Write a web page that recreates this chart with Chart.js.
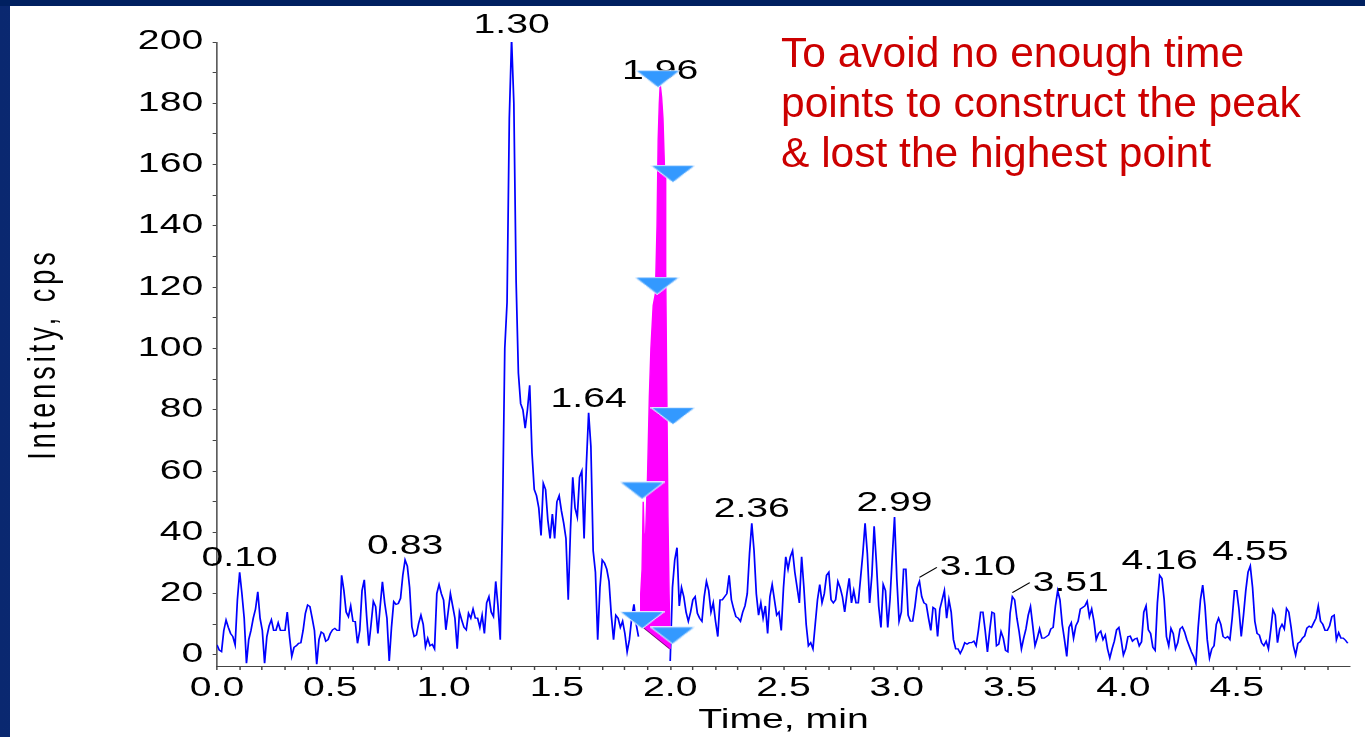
<!DOCTYPE html>
<html>
<head>
<meta charset="utf-8">
<title>XIC chromatogram</title>
<script src="https://cdn.jsdelivr.net/npm/chart.js@4.4.1/dist/chart.umd.min.js"></script>
<style>
  html, body { margin: 0; padding: 0; }
  body { width: 1365px; height: 737px; overflow: hidden; position: relative;
         background: linear-gradient(to right, #0a2870, #143c98); }
  #topband { position: absolute; left: 0; top: 0; width: 1365px; height: 6px; background: #002060; }
  #sheet { position: absolute; left: 10px; top: 6px; right: 0; bottom: 0; background: #fff; }
  #chart { position: absolute; left: 0; top: 0; }
  #note { position: absolute; left: 781px; top: 28px; color: #cc0000; white-space: pre;
          font: 42.5px/50px 'Liberation Sans', Arial, sans-serif; }
</style>
</head>
<body>
<div id="topband"></div>
<div id="sheet"></div>
<canvas id="chart" width="941" height="737"></canvas>
<div id="note">To avoid no enough time
points to construct the peak
&amp; lost the highest point</div>
<script>
// trace sampled every 0.01 min from 0.00 to 4.99; the integrated peak (1.87-1.99) is kept apart
var sampleStep = 0.01;
var intensity = [
  3.3, 1.6, 1.1, 8, 11.4, 9, 7, 6, 3.3, 18,
  27, 20, 12, -2.7, 5, 8, 12, 15, 20.6, 12,
  8, -2.7, 6, 9.5, 11.5, 8, 8, 10.5, 8, 8,
  8, 14, 6, -0.5, 2.5, 3, 3.8, 4, 8, 13.6,
  16.3, 15.8, 12, 8, -3, 5, 7.5, 7, 4.5, 5,
  7, 8.2, 8.7, 8, 8, 26, 21, 14, 12.5, 16,
  11, 10.9, 3.8, 8, 21, 24.5, 13, 3, 10, 17.5,
  15.8, 7, 15.8, 23.9, 17, 12, -2, 9, 17.4, 16.5,
  16.8, 18.5, 26, 31, 29, 22, 9.2, 6, 6.5, 10.3,
  13, 10, 2.7, 5.4, 3, 3.5, 2, 20, 23, 20,
  17.9, 8.2, 14, 20, 16, 12, 2, 14, 11.4, 9,
  8.2, 13.6, 12, 15, 12, 12, 9, 13, 7, 17,
  19, 14, 12.5, 24, 16, 5, 45, 100, 115, 175,
  201, 180, 122, 92, 82, 80, 74, 80, 88, 66,
  54, 52, 48, 39, 56, 54, 44, 38, 46, 38,
  50, 52, 47, 43, 38, 18, 41, 58, 48, 45,
  58, 60, 38, 62, 79, 68, 34, 27, 5, 22,
  31, 30, 28, 24, 13, 5, 13, 12, 9, 11,
  7, 1, 5, 12, 16.5, 10, 6, null, null, null,
  null, null, null, null, null, null, null, null, null, null,
  -2, 22, 31, 35, 16, 22, 19, 14, 11, 14,
  18, 19, 13.6, 12, 11, 19, 24, 21, 14, 17,
  11, 6, 18, 18, 19, 20, 26, 18, 15, 12.5,
  12, 11, 14, 16, 20, 33, 43, 34, 20, 13,
  17, 12, 16, 7, 19, 23, 18, 13, 14, 8,
  22, 32, 28, 32, 34, 27, 22, 17, 32, 22,
  10, 3, 4, 2, 10, 18, 23, 17, 20, 26,
  27, 18, 17, 18, 24, 22, 19, 14, 20, 25,
  17, 21, 17, 17, 25, 33, 43, 33, 17, 26,
  42, 30, 16, 9, 23, 21, 9, 18, 32, 45,
  25, 11, 14, 28, 28, 13, 11, 11, 15.8, 22,
  24, 19, 17, 16.5, 12, 8, 15.5, 15, 6, 15,
  18, 21, 12, 18, 14, 5, 2, 2, 0.5, 2,
  4, 3.5, 4, 4, 4.5, 3, 8, 14, 14, 8,
  1, 8, 14, 13.6, 3, 3.5, 7.6, 5.5, 1.5, 1,
  13.6, 19, 18, 12, 7.5, 2, 5.5, 8.5, 13, 15.8,
  9.5, 3, 5.5, 8.5, 5.5, 5.5, 6, 6.5, 8.5, 9,
  16, 21, 18, 10, 5, -0.5, 9, 10.5, 5.5, 9.5,
  11, 15, 15.5, 16, 17.5, 12.5, 15, 11, 5, 7,
  7.8, 5, 6.5, 2, -1, 2, 4.5, 8.2, 9, 5,
  0, 2, 6, 6.2, 4.5, 5.2, 5.5, 3, 4.3, 14,
  16, 8.2, 7, 2.5, 1.5, 17, 26, 25, 18, 6,
  3, 8.7, 7, 2, 4, 8.5, 9.2, 7.5, 5, 3,
  1, -0.5, -2.7, 9, 18, 22.8, 16, 5, -1, 2,
  3, 10, 12, 10, 6, 5.5, 6, 5, 12, 21,
  21, 15, 6, 13, 21, 27, 29, 22, 11, 7,
  6.5, 4, 3, 4.5, 2, 8, 14.7, 13, 4, 8.5,
  10, 8.5, 15.2, 14, 9, 3, 0, 3.8, 4.3, 5.5,
  6.2, 8.8, 9.4, 9, 10.5, 12, 16, 11, 10, 8,
  8, 9.5, 12.5, 13, 5, 7.3, 5.5, 5.5, 4.8, 3.8
];

// integrated peak at 1.96 min and its baseline
var peakTimes = [1.866, 1.870, 1.876, 1.881, 1.886, 1.892, 1.900, 1.908, 1.915, 1.925, 1.935, 1.942,
  1.947, 1.952, 1.956, 1.962, 1.968, 1.975, 1.980, 1.985, 1.990, 1.995, 2.000];
var peakValues = [10, 20, 28, 50, 36, 40, 58, 84, 100, 114, 118, 140,
  168, 180, 186, 182, 175, 158, 125, 85, 45, 20, 2];
var baseTimes = [1.866, 2.000];
var baseValues = [10, 2];

// sampling-point arrows drawn over the peak
var markerTimes = [1.946, 2.012, 1.942, 2.012, 1.876, 1.876, 2.010];
var markerLevels = [188, 157, 120.5, 78, 53.7, 11.4, 6.4];

// retention-time labels
var peakLabels = ['0.10', '0.83', '1.30', '1.64', '1.96', '2.36', '2.99', '3.10', '3.51', '4.16', '4.55'];
var leaderLabels = ['3.10', '3.51'];

var xTickLabels = ['0.0', '0.5', '1.0', '1.5', '2.0', '2.5', '3.0', '3.5', '4.0', '4.5'];
var yTickLabels = ['0', '20', '40', '60', '80', '100', '120', '140', '160', '180', '200'];

// the original picture is stretched sideways; draw at 941 wide and widen to 1365
var LOGICAL_W = 941;
var STRETCH = 1365 / LOGICAL_W;
var FONT = "'Liberation Sans', Arial, sans-serif";

function pairs(xs, ys) {
  return xs.map(function (x, i) { return { x: x, y: ys[i] }; });
}
var tracePoints = intensity.map(function (v, i) {
  return { x: +(i * sampleStep).toFixed(2), y: v };
});
var peakPoints = pairs(peakTimes, peakValues);

function makeArrow() {
  var c = document.createElement('canvas');
  c.width = 31; c.height = 18;
  var g = c.getContext('2d');
  g.beginPath();
  g.moveTo(0.5, 0.7); g.lineTo(30.5, 0.7); g.lineTo(15.5, 17.5); g.closePath();
  g.fillStyle = '#3399ff';
  g.fill();
  g.strokeStyle = '#ffffff';
  g.lineWidth = 0.8;
  g.stroke();
  return c;
}

var peakLabelPlugin = {
  id: 'peakLabels',
  afterDatasetsDraw: function (chart) {
    var ctx = chart.ctx, xs = chart.scales.x, ys = chart.scales.y;
    var all = tracePoints.concat(peakPoints);
    ctx.save();
    ctx.font = '27px ' + FONT;
    ctx.fillStyle = '#000';
    ctx.strokeStyle = '#000';
    ctx.lineWidth = 1;
    ctx.textBaseline = 'alphabetic';
    peakLabels.forEach(function (label) {
      var t = parseFloat(label), best = null;
      all.forEach(function (p) {
        if (p.y !== null && Math.abs(p.x - t) <= 0.015 && (!best || p.y > best.y)) best = p;
      });
      if (!best) return;
      var px = xs.getPixelForValue(best.x), py = ys.getPixelForValue(best.y);
      if (leaderLabels.indexOf(label) >= 0) {
        var ex = px + 12, ey = py - 14;
        ctx.beginPath();
        ctx.moveTo(px, py - 4);
        ctx.lineTo(ex, ey);
        ctx.stroke();
        ctx.textAlign = 'left';
        ctx.fillText(label, ex + 2, ey + 8);
      } else {
        ctx.textAlign = 'center';
        ctx.fillText(label, px, py - 6);
      }
    });
    ctx.restore();
  }
};

// peak labels sit under the arrows, so draw the arrows again on top
var arrowPlugin = {
  id: 'arrowsOnTop',
  afterDraw: function (chart) {
    var meta = chart.getDatasetMeta(0);
    meta.data.forEach(function (pt) { pt.draw(chart.ctx); });
  }
};

var tickFont = { family: FONT, size: 27 };

var canvas = document.getElementById('chart');
canvas.style.width = LOGICAL_W + 'px';
canvas.style.height = '737px';

var chart = new Chart(canvas, {
  type: 'line',
  data: {
    datasets: [
      {
        label: 'Sampling points',
        data: pairs(markerTimes, markerLevels),
        showLine: false,
        pointStyle: makeArrow(),
        pointRadius: 8,
        order: 0
      },
      {
        label: 'Integrated peak',
        data: peakPoints,
        borderColor: '#ff00ff',
        backgroundColor: '#ff00ff',
        borderWidth: 1,
        pointRadius: 0,
        fill: 2,
        order: 1
      },
      {
        label: 'Baseline',
        data: pairs(baseTimes, baseValues),
        borderColor: '#7a0a7a',
        borderWidth: 1.5,
        pointRadius: 0,
        fill: false,
        order: 2
      },
      {
        label: 'XIC',
        data: tracePoints,
        borderColor: '#0000ff',
        borderWidth: 1.2,
        pointRadius: 0,
        spanGaps: false,
        fill: false,
        order: 3
      }
    ]
  },
  options: {
    responsive: false,
    animation: false,
    devicePixelRatio: 1,
    events: [],
    elements: { line: { tension: 0 } },
    layout: { padding: { top: 42, left: 0, bottom: 0, right: LOGICAL_W - 1350 / STRETCH } },
    plugins: { legend: { display: false }, tooltip: { enabled: false } },
    scales: {
      x: {
        type: 'linear',
        min: 0,
        max: 5,
        afterBuildTicks: function (scale) {
          var t = [];
          for (var i = 0; i < 50; i++) t.push({ value: i / 10 });
          scale.ticks = t;
        },
        afterFit: function (scale) { scale.height = 71; },
        border: { display: true, color: '#444', width: 1 },
        grid: { drawOnChartArea: false, drawTicks: true, tickLength: 4, tickColor: '#444', tickWidth: 1 },
        ticks: {
          autoSkip: false, maxRotation: 0, minRotation: 0, padding: 2, color: '#000', font: tickFont,
          callback: function (v) {
            var s = Number(v).toFixed(1);
            return xTickLabels.indexOf(s) >= 0 ? s : '';
          }
        },
        title: { display: true, text: 'Time, min', color: '#000', font: { family: FONT, size: 27 },
          padding: { top: 0, bottom: 0 } }
      },
      y: {
        type: 'linear',
        min: -3.6,
        max: 200,
        afterBuildTicks: function (scale) {
          var t = [];
          for (var i = 0; i <= 20; i++) t.push({ value: i * 10 });
          scale.ticks = t;
        },
        afterFit: function (scale) { scale.width = 217 / STRETCH; },
        border: { display: true, color: '#444', width: 1 },
        grid: { drawOnChartArea: false, drawTicks: true, tickLength: 3, tickColor: '#444', tickWidth: 1 },
        ticks: {
          autoSkip: false, padding: 6.5, color: '#000', font: tickFont,
          callback: function (v) {
            var s = String(Math.round(v));
            return yTickLabels.indexOf(s) >= 0 ? s : '';
          }
        },
        title: { display: true, text: 'Intensity, cps', color: '#000', font: { family: FONT, size: 27 },
          padding: { top: 14, bottom: 0 } }
      }
    }
  },
  plugins: [peakLabelPlugin, arrowPlugin]
});

// y title is spaced out in the original
var yScale = chart.scales.y;
var baseDrawTitle = yScale.drawTitle;
yScale.drawTitle = function () {
  this.ctx.save();
  this.ctx.letterSpacing = '4px';
  baseDrawTitle.call(this);
  this.ctx.restore();
};

// widen the drawing to the full page width
canvas.width = 1365;
canvas.style.width = '1365px';
chart.ctx.setTransform(STRETCH, 0, 0, 1, 0, 0);
chart.draw();
</script>
</body>
</html>
